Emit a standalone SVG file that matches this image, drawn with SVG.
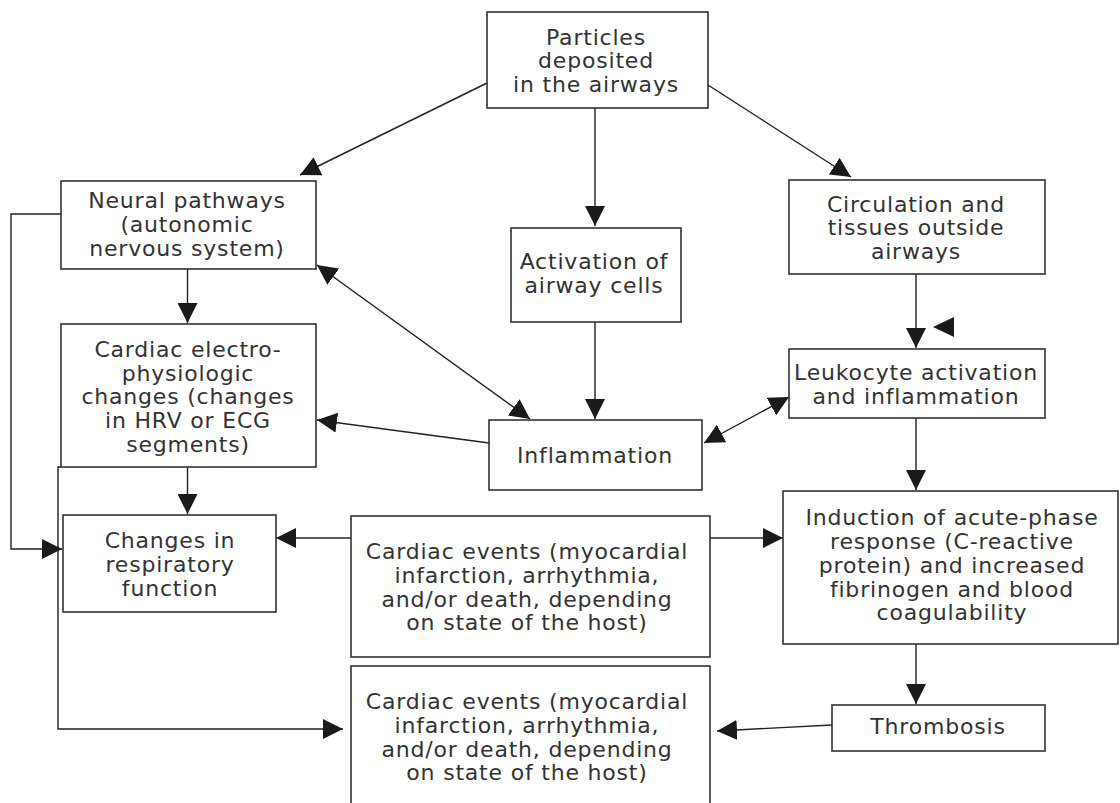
<svg xmlns="http://www.w3.org/2000/svg" width="1120" height="803" viewBox="0 0 1120 803">
<defs>
<marker id="arr" markerUnits="userSpaceOnUse" markerWidth="20" markerHeight="20" refX="20" refY="10" orient="auto-start-reverse" viewBox="0 0 20 20">
<path d="M0,0 L20,10 L0,20 Z" fill="#1a1a1a"/>
</marker>
<style>
.box{fill:#fff;stroke:#333;stroke-width:1.6}
.c{fill:none;stroke:#222;stroke-width:1.4}
.t{font-family:"DejaVu Sans",sans-serif;font-size:22px;letter-spacing:0.8px;fill:#333;text-anchor:middle}
</style>
</defs>
<rect width="1120" height="803" fill="#fff"/>
<g id="connectors">
<line class="c" x1="487" y1="83" x2="300" y2="175" marker-end="url(#arr)"/>
<line class="c" x1="595" y1="108" x2="595" y2="226" marker-end="url(#arr)"/>
<line class="c" x1="708" y1="85" x2="851" y2="177" marker-end="url(#arr)"/>
<line class="c" x1="187.5" y1="269" x2="187.5" y2="323" marker-end="url(#arr)"/>
<line class="c" x1="317" y1="265" x2="530" y2="419" marker-start="url(#arr)" marker-end="url(#arr)"/>
<line class="c" x1="595" y1="322" x2="595" y2="419" marker-end="url(#arr)"/>
<line class="c" x1="489" y1="443" x2="317" y2="420" marker-end="url(#arr)"/>
<line class="c" x1="916" y1="274" x2="916" y2="348" marker-end="url(#arr)"/>
<polygon points="933,327 954,317 954,337" fill="#1a1a1a"/>
<line class="c" x1="704" y1="443" x2="789" y2="397" marker-start="url(#arr)" marker-end="url(#arr)"/>
<line class="c" x1="916" y1="418" x2="916" y2="490" marker-end="url(#arr)"/>
<line class="c" x1="187.5" y1="467" x2="187.5" y2="514" marker-end="url(#arr)"/>
<line class="c" x1="351" y1="538" x2="276" y2="538" marker-end="url(#arr)"/>
<line class="c" x1="710" y1="538" x2="783" y2="538" marker-end="url(#arr)"/>
<line class="c" x1="916" y1="644" x2="916" y2="704" marker-end="url(#arr)"/>
<line class="c" x1="832" y1="725" x2="717" y2="731" marker-end="url(#arr)"/>
<polyline class="c" points="61,214 11,214 11,549 62,549" marker-end="url(#arr)"/>
<polyline class="c" points="61,467 58,467 58,729 343,729" marker-end="url(#arr)"/>
</g>
<g id="particles">
<rect class="box" x="487" y="12" width="221" height="96"/>
<text class="t" x="596" y="45">Particles</text>
<text class="t" x="596" y="68">deposited</text>
<text class="t" x="596" y="92">in the airways</text>
</g>
<g id="neural">
<rect class="box" x="61" y="181" width="255" height="88"/>
<text class="t" x="187" y="208">Neural pathways</text>
<text class="t" x="187" y="232">(autonomic</text>
<text class="t" x="187" y="256">nervous system)</text>
</g>
<g id="activation">
<rect class="box" x="511" y="228" width="170" height="94"/>
<text class="t" x="594" y="269">Activation of</text>
<text class="t" x="594" y="293">airway cells</text>
</g>
<g id="circulation">
<rect class="box" x="789" y="180" width="256" height="94"/>
<text class="t" x="916" y="212">Circulation and</text>
<text class="t" x="916" y="235">tissues outside</text>
<text class="t" x="916" y="259">airways</text>
</g>
<g id="cardiac-electro">
<rect class="box" x="61" y="324" width="255" height="143"/>
<text class="t" x="188" y="357">Cardiac electro-</text>
<text class="t" x="188" y="381">physiologic</text>
<text class="t" x="188" y="404">changes (changes</text>
<text class="t" x="188" y="428">in HRV or ECG</text>
<text class="t" x="188" y="452">segments)</text>
</g>
<g id="inflammation">
<rect class="box" x="489" y="420" width="213" height="70"/>
<text class="t" x="595" y="463">Inflammation</text>
</g>
<g id="leukocyte">
<rect class="box" x="789" y="349" width="256" height="69"/>
<text class="t" x="916" y="380">Leukocyte activation</text>
<text class="t" x="916" y="404">and inflammation</text>
</g>
<g id="changes-respiratory">
<rect class="box" x="63" y="515" width="213" height="97"/>
<text class="t" x="170" y="548">Changes in</text>
<text class="t" x="170" y="572">respiratory</text>
<text class="t" x="170" y="596">function</text>
</g>
<g id="cardiac-events-1">
<rect class="box" x="351" y="516" width="359" height="141"/>
<text class="t" x="527" y="559">Cardiac events (myocardial</text>
<text class="t" x="527" y="583">infarction, arrhythmia,</text>
<text class="t" x="527" y="607">and/or death, depending</text>
<text class="t" x="527" y="630">on state of the host)</text>
</g>
<g id="induction">
<rect class="box" x="783" y="491" width="335" height="153"/>
<text class="t" x="952" y="525">Induction of acute-phase</text>
<text class="t" x="952" y="549">response (C-reactive</text>
<text class="t" x="952" y="573">protein) and increased</text>
<text class="t" x="952" y="597">fibrinogen and blood</text>
<text class="t" x="952" y="620">coagulability</text>
</g>
<g id="thrombosis">
<rect class="box" x="832" y="705" width="213" height="46"/>
<text class="t" x="938" y="734">Thrombosis</text>
</g>
<g id="cardiac-events-2">
<rect class="box" x="351" y="666" width="359" height="145"/>
<text class="t" x="527" y="709">Cardiac events (myocardial</text>
<text class="t" x="527" y="733">infarction, arrhythmia,</text>
<text class="t" x="527" y="757">and/or death, depending</text>
<text class="t" x="527" y="780">on state of the host)</text>
</g>
</svg>
